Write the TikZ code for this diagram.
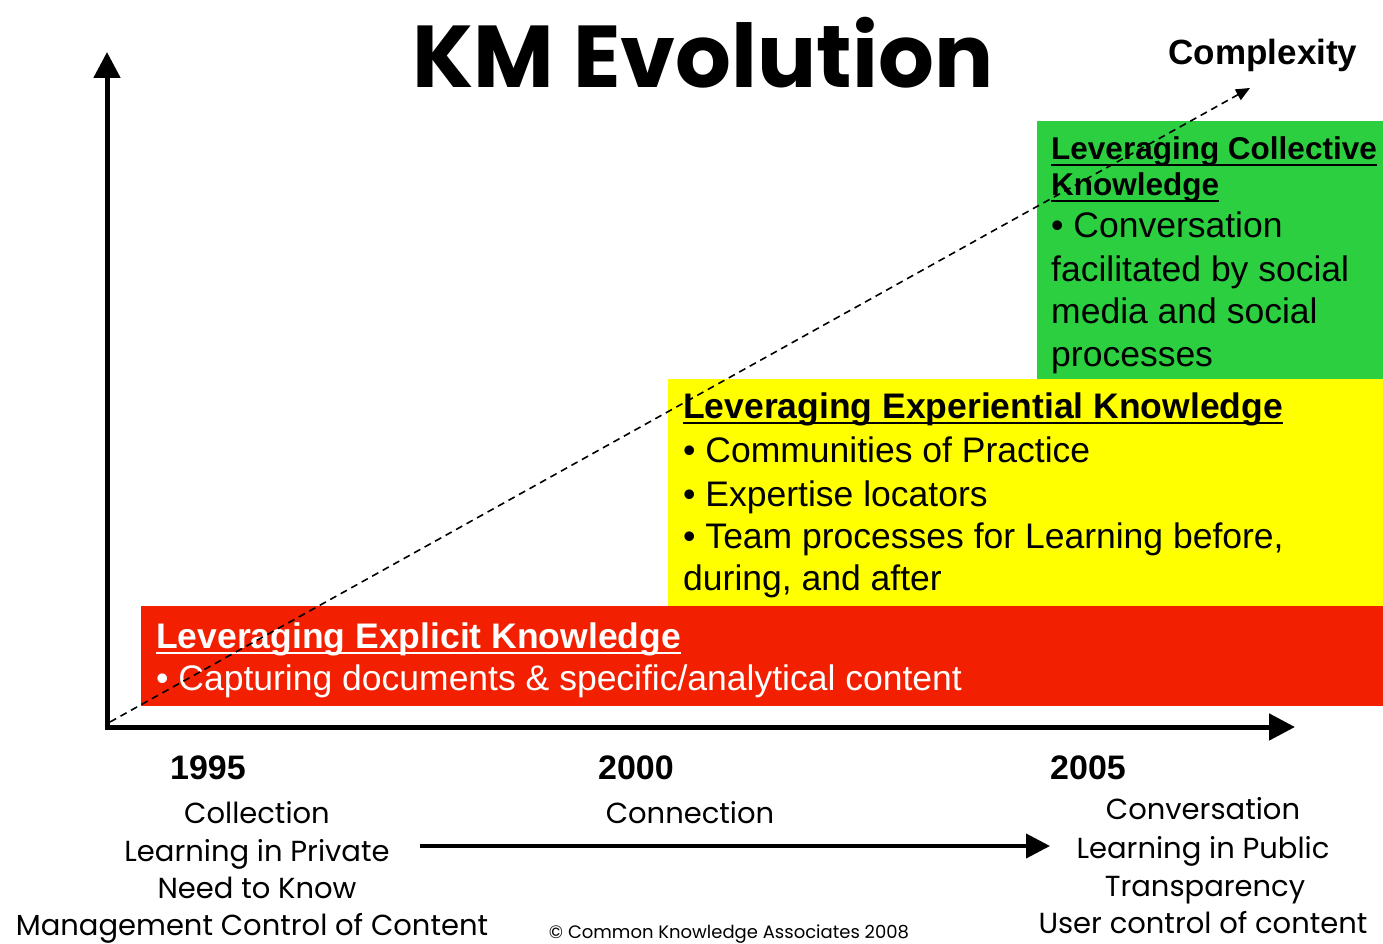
\documentclass[tikz,border=0pt]{standalone}
\usepackage{fontspec}
\setmainfont{Liberation Sans}
\newfontfamily\comic{Poppins}
\usetikzlibrary{arrows.meta}
\definecolor{kmred}{RGB}{242,32,0}
\definecolor{kmyellow}{RGB}{255,255,0}
\definecolor{kmgreen}{RGB}{43,207,64}
\begin{document}
\begin{tikzpicture}[x=1pt,y=-1pt,
  txt/.style={inner sep=0pt,anchor=base west},
  big/.style={font=\fontsize{35.5}{43}\selectfont},
  bigb/.style={font=\fontsize{35.5}{43}\selectfont\bfseries},
  comictxt/.style={inner sep=0pt,anchor=base,font=\comic\fontsize{29}{34}\selectfont},
  year/.style={inner sep=0pt,anchor=base,font=\fontsize{34}{40}\selectfont\bfseries},
  axis/.style={line width=5pt,-{Triangle[length=26pt,width=26pt]}},
  uline/.style={line width=2.5pt}]
\useasboundingbox (0,0) rectangle (1383,944);
% coloured bands
\fill[kmgreen] (1037,121) rectangle (1383,381);
\fill[kmyellow] (668,379) rectangle (1383,606);
\fill[kmred] (141,606) rectangle (1383,706);
% title
\node[inner sep=0pt,anchor=base] (title) at (703,88) {\resizebox{580pt}{!}{\comic\bfseries KM Evolution}};
\node[inner sep=0pt,anchor=base] (cplx) at (1263,65) {\fontsize{35}{42}\selectfont\bfseries Complexity};
% axes
\coordinate (origin) at (107,727);
\coordinate (ytop) at (107,52);
\coordinate (xend) at (1295,727);
\coordinate (dstart) at (110,722);
\coordinate (dend) at (1250,88);
\draw[axis] ([yshift=-2.5pt]origin) -- (ytop);
\draw[axis] ([xshift=-2.5pt]origin) -- (xend);
% green text
\node[txt,font=\fontsize{31.5}{38}\selectfont\bfseries] (g1) at (1051,160) {Leveraging Collective};
\node[txt,font=\fontsize{31.5}{38}\selectfont\bfseries] (g2) at (1051,196) {Knowledge};
\draw[uline] ([yshift=-5pt]g1.base west) -- ([yshift=-5pt]g1.base east);
\draw[uline] ([yshift=-5pt]g2.base west) -- ([yshift=-5pt]g2.base east);
\node[txt,big] (g3) at (1051,237) {\textbullet\ Conversation};
\node[txt,big] (g4) at (1051,281) {facilitated by social};
\node[txt,big] (g5) at (1051,323) {media and social};
\node[txt,big] (g6) at (1051,366) {processes};
% yellow text
\node[txt,bigb] (y1) at (683,418) {Leveraging Experiential Knowledge};
\draw[uline] ([yshift=-5pt]y1.base west) -- ([yshift=-5pt]y1.base east);
\node[txt,big] (y2) at (683,462) {\textbullet\ Communities of Practice};
\node[txt,big] (y3) at (683,506) {\textbullet\ Expertise locators};
\node[txt,big] (y4) at (683,548) {\textbullet\ Team processes for Learning before,};
\node[txt,big] (y5) at (683,590) {during, and after};
% red text
\node[txt,bigb,text=white] (r1) at (156,648) {Leveraging Explicit Knowledge};
\draw[uline,white] ([yshift=-5pt]r1.base west) -- ([yshift=-5pt]r1.base east);
\node[txt,big,text=white] (r2) at (156,690) {\textbullet\ Capturing documents \& specific/analytical content};
% dashed complexity line
\draw[line width=1.6pt,dash pattern=on 7pt off 5pt,-{Triangle[length=14pt,width=12pt]}] (dstart) -- (dend);
% years
\node[year] (y95) at (208,779) {1995};
\node[year] (y00) at (636,779) {2000};
\node[year] (y05) at (1088,779) {2005};
% descriptions
\node[comictxt] (l1) at (257,823) {Collection};
\node[comictxt] (l2) at (257,861) {Learning in Private};
\node[comictxt] (l3) at (257,898) {Need to Know};
\node[comictxt] (l4) at (252,935) {Management Control of Content};
\node[comictxt] (m1) at (690,823) {Connection};
\node[comictxt] (c1) at (1203,819) {Conversation};
\node[comictxt] (c2) at (1203,858) {Learning in Public};
\node[comictxt] (c3) at (1205,896) {Transparency};
\node[comictxt] (c4) at (1203,933) {User control of content};
\coordinate (aleft) at (420,846);
\coordinate (aright) at (1050,846);
\draw[line width=4pt,-{Triangle[length=24pt,width=24pt]}] (aleft) -- (aright);
\node[inner sep=0pt,anchor=base,font=\comic\fontsize{18}{20}\selectfont] (copy) at (729,938) {\textcopyright\ Common Knowledge Associates 2008};
\end{tikzpicture}
\end{document}
